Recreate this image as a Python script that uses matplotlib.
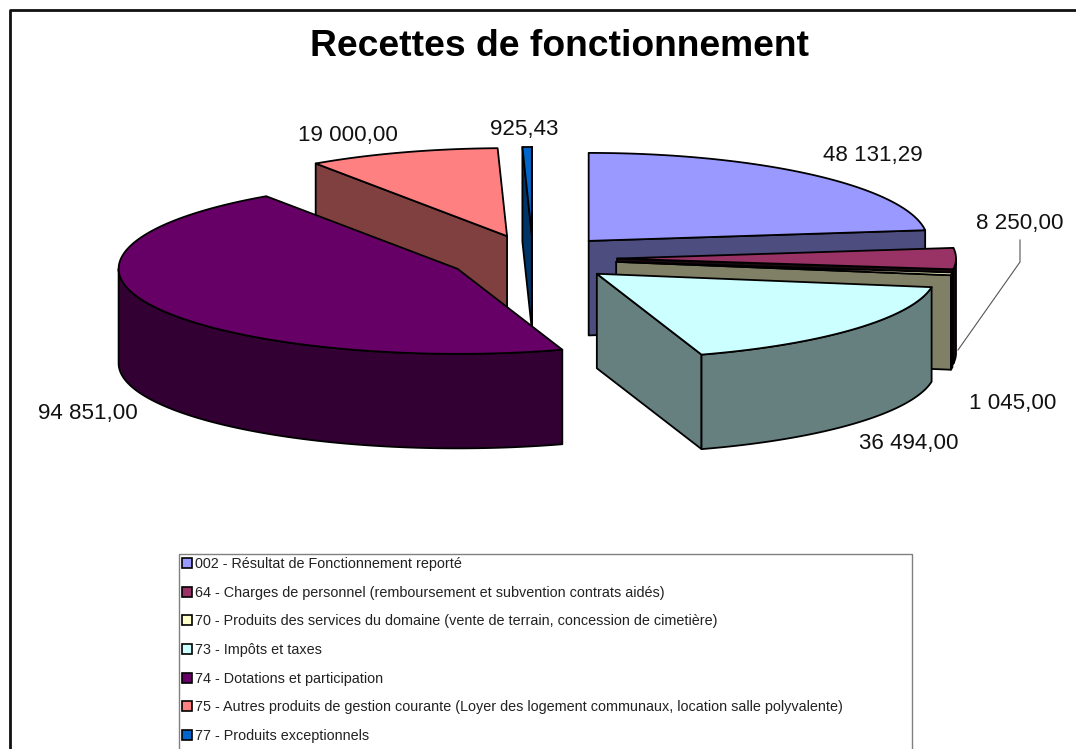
import numpy as np
import matplotlib
matplotlib.use('Agg')
import matplotlib.pyplot as plt
from matplotlib.patches import Polygon, Patch, Rectangle

plt.rcParams['font.family'] = ['Liberation Sans', 'DejaVu Sans']

categories = [
    '002 - Résultat de Fonctionnement reporté',
    '64 - Charges de personnel (remboursement et subvention contrats aidés)',
    '70 - Produits des services du domaine (vente de terrain, concession de cimetière)',
    '73 - Impôts et taxes',
    '74 - Dotations et participation',
    '75 - Autres produits de gestion courante (Loyer des logement communaux, location salle polyvalente)',
    '77 - Produits exceptionnels',
]
values = [48131.29, 8250.00, 1045.00, 36494.00, 94851.00, 19000.00, 925.43]
value_labels = ['48 131,29', '8 250,00', '1 045,00', '36 494,00', '94 851,00', '19 000,00', '925,43']
top_colors = ['#9999FF', '#993366', '#FFFFCC', '#CCFFFF', '#660066', '#FF8080', '#0066CC']
side_colors = ['#4D4D80', '#1A0A12', '#808066', '#668080', '#330033', '#804040', '#003366']
label_pos = [(873, 156), (1020, 224), (1013, 404), (909, 443), (88, 413), (348, 136), (524, 129)]

# pie geometry in pixels
cx, cy = 533, 258.5
rx, ry_back, ry_front = 339, 88, 85
depth = 94.5
explode_x, explode_y = 84, 23.5
draw_order = [0, 5, 6, 1, 2, 3, 4]

fig = plt.figure(figsize=(10.76, 7.49), dpi=100)
ax = fig.add_axes([0, 0, 1, 1])
ax.set_xlim(0, 1076)
ax.set_ylim(749, 0)
ax.axis('off')

# outer frame: only left and top show in the picture
ax.plot([9.5, 9.5, 1076], [749, 9.5, 9.5], color='#111111', lw=2)

angles = np.cumsum([0] + values) / sum(values) * 360


def point(c, a):
    t = np.radians(a)
    k = np.cos(t)
    return c[0] + rx * np.sin(t), c[1] - (ry_back if k > 0 else ry_front) * k


def face(pts, color):
    ax.add_patch(Polygon(pts, closed=True, fc=color, ec='black', lw=1.3, joinstyle='round'))


def draw_slice(i):
    a0, a1 = angles[i], angles[i + 1]
    mid = np.radians((a0 + a1) / 2)
    c = (cx + explode_x * np.sin(mid), cy - explode_y * np.cos(mid))
    # cut faces that look towards the viewer
    for a, normal in ((a0, a0 - 90), (a1, a1 + 90)):
        if np.cos(np.radians(normal)) < 0.001:
            p = point(c, a)
            face([c, p, (p[0], p[1] + depth), (c[0], c[1] + depth)], side_colors[i])
    # outer wall, lower half of the ellipse only
    s0, s1 = max(a0, 90), min(a1, 270)
    if s1 > s0:
        arc = [point(c, a) for a in np.linspace(s0, s1, 80)]
        low = [(x, y + depth) for x, y in arc[::-1]]
        face(arc + low, side_colors[i])
    # top
    top = [c] + [point(c, a) for a in np.linspace(a0, a1, 120)]
    face(top, top_colors[i])


for i in draw_order:
    draw_slice(i)

for lab, (x, y) in zip(value_labels, label_pos):
    ax.text(x, y, lab, fontsize=16.1, ha='center', va='center', color='#111111')

# leader line of the 8 250,00 label
ax.plot([1020, 1020, 958], [240, 262, 350], color='#555555', lw=0.8)

ax.text(559, 47, 'Recettes de fonctionnement', fontsize=26.8, fontweight='bold',
        ha='center', va='center', color='black')

# legend box runs off the bottom of the picture, so its frame is drawn apart
ax.add_patch(Rectangle((178.5, 553.5), 733.5, 230, fill=False, ec='#808080', lw=1))
handles = [Patch(fc=c, ec='black', lw=1.2) for c in top_colors]
bx0, by0, bw = 178 / 1076, 1 - 553 / 749, 734 / 1076
leg = ax.legend(handles, categories, loc='upper left', bbox_to_anchor=(bx0, by0, bw, 0),
                mode='expand', ncols=1, fontsize=10.4, frameon=False, labelcolor='#222222',
                borderaxespad=0, borderpad=0.28, labelspacing=1.016,
                handlelength=0.7, handleheight=0.7, handletextpad=0.2)

fig.savefig('out.png', dpi=100)
